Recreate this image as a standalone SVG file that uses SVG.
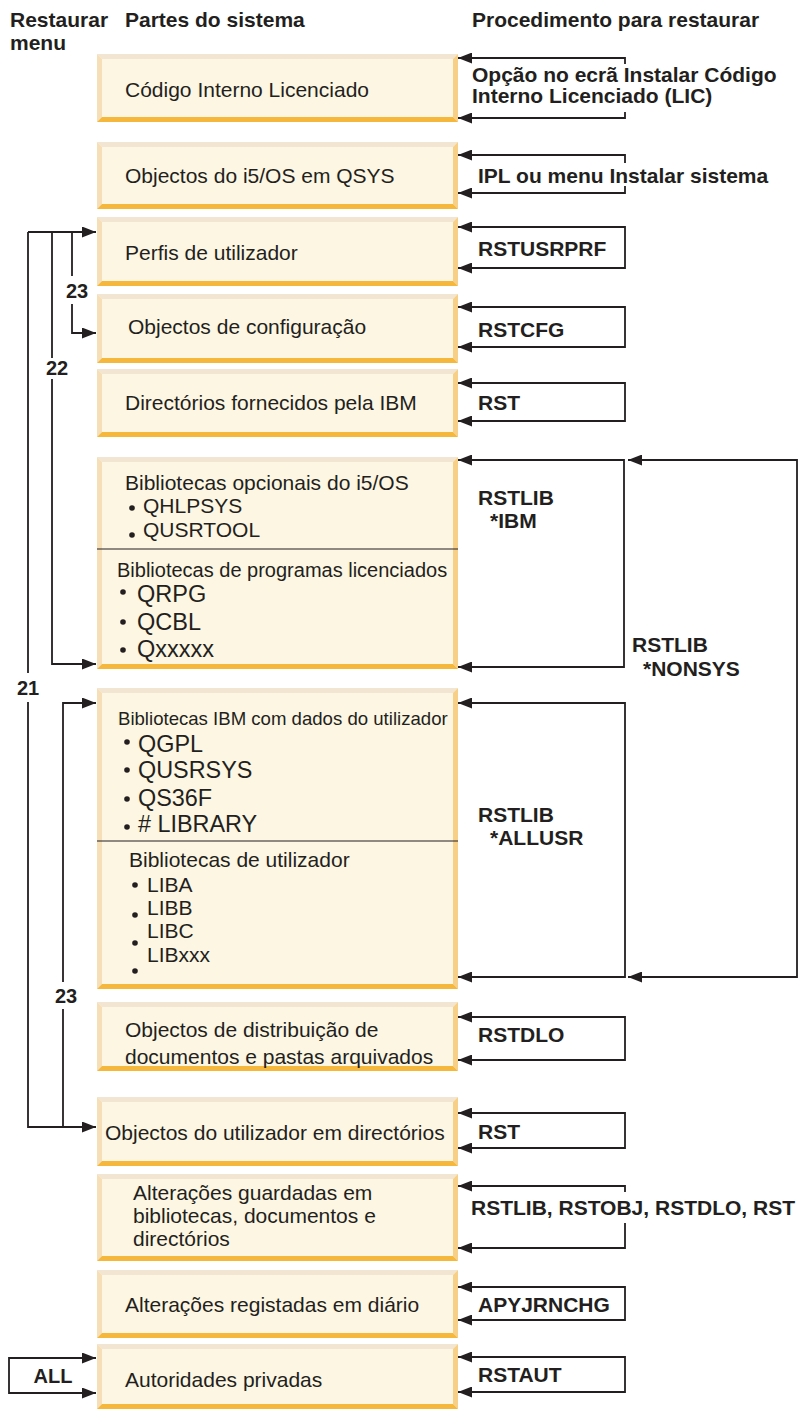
<svg xmlns="http://www.w3.org/2000/svg" width="801" height="1410" viewBox="0 0 801 1410">
  <style>
    text { font-family: "Liberation Sans", Arial, Helvetica, sans-serif; fill: #231f20; }
    .h { font-size: 21px; font-weight: bold; }
    .t { font-size: 21px; }
    .cmd { font-size: 21px; font-weight: bold; }
    .num { font-size: 20px; font-weight: bold; text-anchor: middle; }
    .face { fill: #fdf6e3; }
    .bt { fill: #f2e6d2; }
    .bl { fill: #f6dfb8; }
    .br { fill: #f8cf86; }
    .bb { fill: #f5b73c; }
    .wire { fill: none; stroke: #231f20; stroke-width: 1.8; }
    .div { stroke: #231f20; stroke-width: 1.2; }
    .dot { fill: #231f20; }
  </style>
  <defs>
    <marker id="ah" markerUnits="userSpaceOnUse" markerWidth="14" markerHeight="11" refX="14" refY="5.5" orient="auto-start-reverse">
      <path d="M0,0 L14,5.5 L0,11 z" fill="#231f20"/>
    </marker>
  </defs>

  <rect width="801" height="1410" fill="#ffffff"/>

  <!-- column headings -->
  <g id="headings">
    <text class="h" x="10" y="27">Restaurar</text>
    <text class="h" x="10" y="50">menu</text>
    <text class="h" x="125" y="27">Partes do sistema</text>
    <text class="h" x="472" y="27">Procedimento para restaurar</text>
  </g>

  <!-- bevelled boxes: face, top, left, right and bottom edges -->
  <g id="box-lic">
    <rect class="face" x="97" y="54" width="361" height="68"/>
    <polygon class="bt" points="97,54 458,54 453,59 102,59"/>
    <polygon class="bl" points="97,54 102,59 102,117 97,122"/>
    <polygon class="br" points="458,54 458,122 453,117 453,59"/>
    <polygon class="bb" points="97,122 458,122 453,117 102,117"/>
    <text class="t" x="125" y="97">Código Interno Licenciado</text>
  </g>

  <g id="box-qsys">
    <rect class="face" x="97" y="142" width="361" height="67"/>
    <polygon class="bt" points="97,142 458,142 453,147 102,147"/>
    <polygon class="bl" points="97,142 102,147 102,204 97,209"/>
    <polygon class="br" points="458,142 458,209 453,204 453,147"/>
    <polygon class="bb" points="97,209 458,209 453,204 102,204"/>
    <text class="t" x="125" y="183">Objectos do i5/OS em QSYS</text>
  </g>

  <g id="box-usrprf">
    <rect class="face" x="97" y="217" width="361" height="69"/>
    <polygon class="bt" points="97,217 458,217 453,222 102,222"/>
    <polygon class="bl" points="97,217 102,222 102,281 97,286"/>
    <polygon class="br" points="458,217 458,286 453,281 453,222"/>
    <polygon class="bb" points="97,286 458,286 453,281 102,281"/>
    <text class="t" x="125" y="260">Perfis de utilizador</text>
  </g>

  <g id="box-cfg">
    <rect class="face" x="97" y="294" width="361" height="69"/>
    <polygon class="bt" points="97,294 458,294 453,299 102,299"/>
    <polygon class="bl" points="97,294 102,299 102,358 97,363"/>
    <polygon class="br" points="458,294 458,363 453,358 453,299"/>
    <polygon class="bb" points="97,363 458,363 453,358 102,358"/>
    <text class="t" x="128" y="334">Objectos de configuração</text>
  </g>

  <g id="box-ibmdir">
    <rect class="face" x="97" y="369" width="361" height="68"/>
    <polygon class="bt" points="97,369 458,369 453,374 102,374"/>
    <polygon class="bl" points="97,369 102,374 102,432 97,437"/>
    <polygon class="br" points="458,369 458,437 453,432 453,374"/>
    <polygon class="bb" points="97,437 458,437 453,432 102,432"/>
    <text class="t" x="125" y="410">Directórios fornecidos pela IBM</text>
  </g>

  <g id="box-ibmlib">
    <rect class="face" x="97" y="457" width="361" height="212"/>
    <polygon class="bt" points="97,457 458,457 453,462 102,462"/>
    <polygon class="bl" points="97,457 102,462 102,664 97,669"/>
    <polygon class="br" points="458,457 458,669 453,664 453,462"/>
    <polygon class="bb" points="97,669 458,669 453,664 102,664"/>
    <line class="div" x1="97" y1="549" x2="458" y2="549"/>
    <text class="t" x="125" y="490">Bibliotecas opcionais do i5/OS</text>
    <circle class="dot" cx="132" cy="508" r="2.8"/>
    <text class="t" x="143" y="513">QHLPSYS</text>
    <circle class="dot" cx="132" cy="535" r="2.8"/>
    <text class="t" x="143" y="537">QUSRTOOL</text>
    <text class="t" x="117" y="577" style="font-size:20px">Bibliotecas de programas licenciados</text>
    <circle class="dot" cx="123" cy="592" r="2.8"/>
    <text class="t" x="137" y="602" style="font-size:23.5px">QRPG</text>
    <circle class="dot" cx="123" cy="622" r="2.8"/>
    <text class="t" x="137" y="630" style="font-size:23.5px">QCBL</text>
    <circle class="dot" cx="123" cy="650" r="2.8"/>
    <text class="t" x="137" y="657" style="font-size:23.5px">Qxxxxx</text>
  </g>

  <g id="box-usrlib">
    <rect class="face" x="97" y="688" width="361" height="301"/>
    <polygon class="bt" points="97,688 458,688 453,693 102,693"/>
    <polygon class="bl" points="97,688 102,693 102,984 97,989"/>
    <polygon class="br" points="458,688 458,989 453,984 453,693"/>
    <polygon class="bb" points="97,989 458,989 453,984 102,984"/>
    <line class="div" x1="97" y1="841" x2="458" y2="841"/>
    <text class="t" x="118" y="725" style="font-size:18.6px">Bibliotecas IBM com dados do utilizador</text>
    <circle class="dot" cx="127" cy="742" r="2.8"/>
    <text class="t" x="138" y="752" style="font-size:23.4px">QGPL</text>
    <circle class="dot" cx="127" cy="770" r="2.8"/>
    <text class="t" x="138" y="778" style="font-size:23.4px">QUSRSYS</text>
    <circle class="dot" cx="127" cy="799" r="2.8"/>
    <text class="t" x="138" y="806" style="font-size:23.4px">QS36F</text>
    <circle class="dot" cx="127" cy="827" r="2.8"/>
    <text class="t" x="138" y="832" style="font-size:23.4px"># LIBRARY</text>
    <text class="t" x="129" y="867">Bibliotecas de utilizador</text>
    <circle class="dot" cx="135" cy="885" r="2.8"/>
    <text class="t" x="147" y="892">LIBA</text>
    <circle class="dot" cx="135" cy="915" r="2.8"/>
    <text class="t" x="147" y="915">LIBB</text>
    <circle class="dot" cx="135" cy="943" r="2.8"/>
    <text class="t" x="147" y="938">LIBC</text>
    <circle class="dot" cx="135" cy="971" r="2.8"/>
    <text class="t" x="147" y="962">LIBxxx</text>
  </g>

  <g id="box-dlo">
    <rect class="face" x="97" y="1002" width="361" height="69"/>
    <polygon class="bt" points="97,1002 458,1002 453,1007 102,1007"/>
    <polygon class="bl" points="97,1002 102,1007 102,1066 97,1071"/>
    <polygon class="br" points="458,1002 458,1071 453,1066 453,1007"/>
    <polygon class="bb" points="97,1071 458,1071 453,1066 102,1066"/>
    <text class="t" x="125" y="1037">Objectos de distribuição de</text>
    <text class="t" x="125" y="1064">documentos e pastas arquivados</text>
  </g>

  <g id="box-usrdir">
    <rect class="face" x="97" y="1097" width="361" height="69"/>
    <polygon class="bt" points="97,1097 458,1097 453,1102 102,1102"/>
    <polygon class="bl" points="97,1097 102,1102 102,1161 97,1166"/>
    <polygon class="br" points="458,1097 458,1166 453,1161 453,1102"/>
    <polygon class="bb" points="97,1166 458,1166 453,1161 102,1161"/>
    <text class="t" x="105" y="1140">Objectos do utilizador em directórios</text>
  </g>

  <g id="box-saved">
    <rect class="face" x="97" y="1174" width="361" height="87"/>
    <polygon class="bt" points="97,1174 458,1174 453,1179 102,1179"/>
    <polygon class="bl" points="97,1174 102,1179 102,1256 97,1261"/>
    <polygon class="br" points="458,1174 458,1261 453,1256 453,1179"/>
    <polygon class="bb" points="97,1261 458,1261 453,1256 102,1256"/>
    <text class="t" x="133" y="1200">Alterações guardadas em</text>
    <text class="t" x="133" y="1223">bibliotecas, documentos e</text>
    <text class="t" x="133" y="1246">directórios</text>
  </g>

  <g id="box-journal">
    <rect class="face" x="97" y="1270" width="361" height="68"/>
    <polygon class="bt" points="97,1270 458,1270 453,1275 102,1275"/>
    <polygon class="bl" points="97,1270 102,1275 102,1333 97,1338"/>
    <polygon class="br" points="458,1270 458,1338 453,1333 453,1275"/>
    <polygon class="bb" points="97,1338 458,1338 453,1333 102,1333"/>
    <text class="t" x="125" y="1312">Alterações registadas em diário</text>
  </g>

  <g id="box-aut">
    <rect class="face" x="97" y="1344" width="361" height="65"/>
    <polygon class="bt" points="97,1344 458,1344 453,1349 102,1349"/>
    <polygon class="bl" points="97,1344 102,1349 102,1404 97,1409"/>
    <polygon class="br" points="458,1344 458,1409 453,1404 453,1349"/>
    <polygon class="bb" points="97,1409 458,1409 453,1404 102,1404"/>
    <text class="t" x="125" y="1387">Autoridades privadas</text>
  </g>

  <!-- connectors -->
  <g id="connectors">
    <!-- restore menu options on the left -->
    <path class="wire" d="M28,232 H96" marker-end="url(#ah)"/>
    <path class="wire" d="M28,232 V673"/>
    <path class="wire" d="M28,702 V1127 H96" marker-end="url(#ah)"/>
    <path class="wire" d="M52,232 V358"/>
    <path class="wire" d="M52,379 V664 H96" marker-end="url(#ah)"/>
    <path class="wire" d="M72,232 V276"/>
    <path class="wire" d="M72,304 V333 H96" marker-end="url(#ah)"/>
    <path class="wire" d="M63,982 V703 H96" marker-end="url(#ah)"/>
    <path class="wire" d="M63,1009 V1127"/>
    <path class="wire" d="M96,1358 H9 V1393 H96" marker-start="url(#ah)" marker-end="url(#ah)"/>

    <!-- restore procedures on the right -->
    <path class="wire" d="M458,58 H625 V64" marker-start="url(#ah)"/>
    <path class="wire" d="M625,112 V118 H458" marker-end="url(#ah)"/>
    <path class="wire" d="M458,155 H625 V163" marker-start="url(#ah)"/>
    <path class="wire" d="M625,186 V193 H458" marker-end="url(#ah)"/>
    <path class="wire" d="M458,227 H625 V268 H458" marker-start="url(#ah)" marker-end="url(#ah)"/>
    <path class="wire" d="M458,307 H625 V347 H458" marker-start="url(#ah)" marker-end="url(#ah)"/>
    <path class="wire" d="M458,383 H625 V421 H458" marker-start="url(#ah)" marker-end="url(#ah)"/>
    <path class="wire" d="M458,460 H624 V667 H458" marker-start="url(#ah)" marker-end="url(#ah)"/>
    <path class="wire" d="M628,460 H797 V977 H628" marker-start="url(#ah)" marker-end="url(#ah)"/>
    <path class="wire" d="M458,703 H625 V977 H458" marker-start="url(#ah)" marker-end="url(#ah)"/>
    <path class="wire" d="M458,1017 H625 V1060 H458" marker-start="url(#ah)" marker-end="url(#ah)"/>
    <path class="wire" d="M458,1113 H625 V1148 H458" marker-start="url(#ah)" marker-end="url(#ah)"/>
    <path class="wire" d="M458,1186 H625 V1192" marker-start="url(#ah)"/>
    <path class="wire" d="M625,1223 V1248 H458" marker-end="url(#ah)"/>
    <path class="wire" d="M458,1287 H625 V1320 H458" marker-start="url(#ah)" marker-end="url(#ah)"/>
    <path class="wire" d="M458,1357 H625 V1392 H458" marker-start="url(#ah)" marker-end="url(#ah)"/>
  </g>

  <!-- connector labels -->
  <g id="labels">
    <text class="num" x="77" y="298">23</text>
    <text class="num" x="57" y="375">22</text>
    <text class="num" x="28" y="695">21</text>
    <text class="num" x="66" y="1003">23</text>
    <text class="num" x="53" y="1383">ALL</text>

    <text class="cmd" x="472" y="82">Opção no ecrã Instalar Código</text>
    <text class="cmd" x="472" y="103">Interno Licenciado (LIC)</text>
    <text class="cmd" x="478" y="183">IPL ou menu Instalar sistema</text>
    <text class="cmd" x="478" y="256">RSTUSRPRF</text>
    <text class="cmd" x="478" y="337">RSTCFG</text>
    <text class="cmd" x="478" y="410">RST</text>
    <text class="cmd" x="478" y="505">RSTLIB</text>
    <text class="cmd" x="490" y="528">*IBM</text>
    <text class="cmd" x="632" y="652">RSTLIB</text>
    <text class="cmd" x="643" y="676">*NONSYS</text>
    <text class="cmd" x="478" y="822">RSTLIB</text>
    <text class="cmd" x="490" y="845">*ALLUSR</text>
    <text class="cmd" x="478" y="1042">RSTDLO</text>
    <text class="cmd" x="478" y="1139">RST</text>
    <text class="cmd" x="471" y="1215">RSTLIB, RSTOBJ, RSTDLO, RST</text>
    <text class="cmd" x="478" y="1312">APYJRNCHG</text>
    <text class="cmd" x="478" y="1382">RSTAUT</text>
  </g>
</svg>
